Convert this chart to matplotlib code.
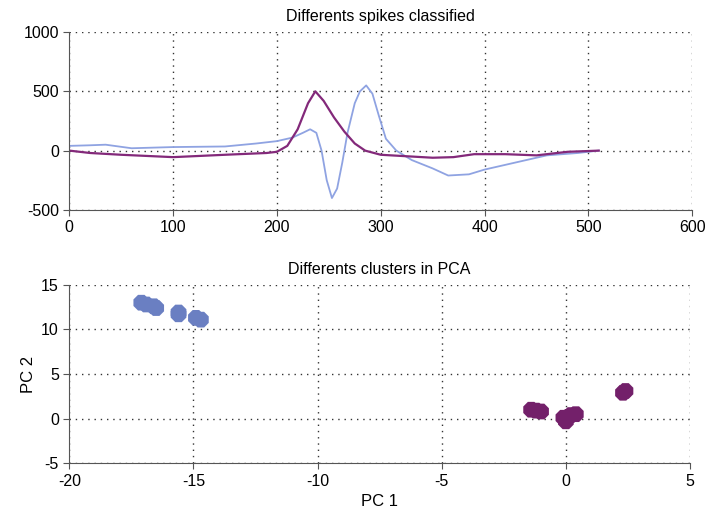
import matplotlib.pyplot as plt
import numpy as np

plt.rcParams['font.family'] = ['Liberation Sans', 'DejaVu Sans']
plt.rcParams['axes.unicode_minus'] = False

# spike waveforms (sample index, amplitude)
purple_x = [0, 20, 50, 100, 150, 190, 200, 210, 220, 230, 237, 245, 255, 265, 275, 285,
            300, 320, 350, 370, 390, 420, 450, 480, 510]
purple_y = [0, -20, -35, -55, -35, -20, -10, 40, 180, 400, 500, 420, 280, 160, 60, 0,
            -35, -45, -60, -55, -30, -30, -40, -10, 0]

blue_x = [0, 20, 35, 60, 100, 150, 180, 200, 215, 225, 232, 238, 243, 248, 253, 258,
          263, 268, 275, 280, 286, 292, 298, 305, 315, 330, 350, 365, 385, 400, 420,
          440, 460, 490, 510]
blue_y = [40, 45, 50, 20, 30, 35, 60, 80, 110, 150, 180, 150, 0, -250, -400, -320,
          -100, 150, 400, 500, 550, 480, 300, 100, 0, -80, -150, -210, -200, -160, -120,
          -80, -40, -20, 0]

# PCA scores
pc1_blue = [-17.1, -16.9, -16.6, -16.5, -15.6, -15.6, -14.9, -14.7]
pc2_blue = [13.0, 12.8, 12.6, 12.4, 11.9, 11.7, 11.3, 11.1]
pc1_purple = [-1.4, -1.2, -1.0, -0.1, 0.0, 0.1, 0.2, 0.4, 2.3, 2.4]
pc2_purple = [1.0, 0.9, 0.8, 0.1, -0.3, 0.2, 0.4, 0.5, 2.9, 3.1]

fig = plt.figure(figsize=(7.07, 5.17), dpi=100)
ax1 = fig.add_axes([0.098, 0.594, 0.881, 0.344])
ax2 = fig.add_axes([0.098, 0.104, 0.878, 0.345])

blue_line = '#8fa3e2'
purple_line = '#83297a'
purple_pt = '#73206a'
blue_pt = '#6a7fc2'

ax1.plot(blue_x, blue_y, color=blue_line, lw=1.3)
ax1.plot(purple_x, purple_y, color=purple_line, lw=1.6)
ax1.set_xlim(0, 600)
ax1.set_ylim(-500, 1000)
ax1.set_xticks(np.arange(0, 601, 100))
ax1.set_yticks([-500, 0, 500, 1000])
ax1.set_title('Differents spikes classified', fontsize=11.5, pad=8)

ax2.scatter(pc1_blue, pc2_blue, s=150, color=blue_pt, marker='8', edgecolors='none')
ax2.scatter(pc1_purple, pc2_purple, s=150, color=purple_pt, marker='8', edgecolors='none')
ax2.set_xlim(-20, 5)
ax2.set_ylim(-5, 15)
ax2.set_xticks([-20, -15, -10, -5, 0, 5])
ax2.set_yticks([-5, 0, 5, 10, 15])
ax2.set_title('Differents clusters in PCA', fontsize=11.5, pad=8)
ax2.set_xlabel('PC 1', fontsize=12)
ax2.set_ylabel('PC 2', fontsize=12)

for ax in (ax1, ax2):
    ax.spines['top'].set_visible(False)
    ax.spines['right'].set_visible(False)
    ax.spines['left'].set_color('#555555')
    ax.spines['bottom'].set_color('#555555')
    ax.grid(True, linestyle=(0, (1, 3.5)), color='#333333', lw=1)
    ax.set_axisbelow(True)
    ax.tick_params(labelsize=11.5, length=4, color='#555555')

fig.savefig('out.png', dpi=100)
